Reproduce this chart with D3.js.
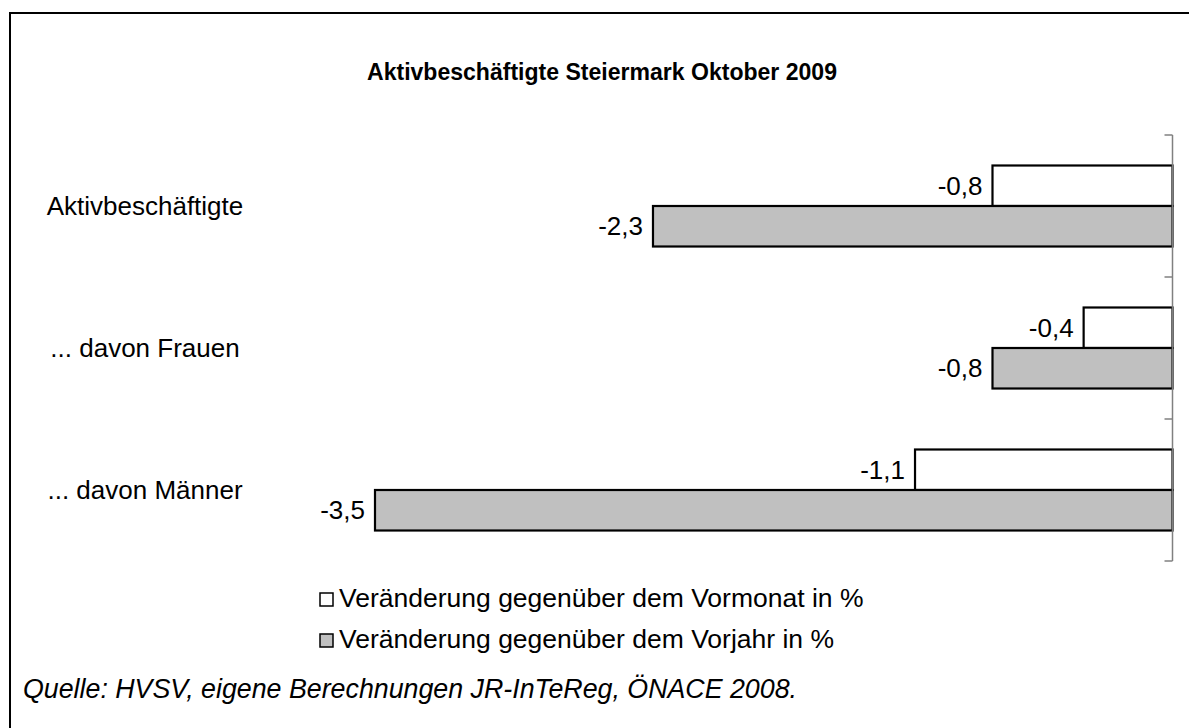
<!DOCTYPE html>
<html>
<head>
<meta charset="utf-8">
<script src="https://cdn.jsdelivr.net/npm/d3@7"></script>
<style>
	body { margin: 0; background: #fff; overflow: hidden; }
	text { font-family: Arial, "Liberation Sans", sans-serif; fill: #000; }
</style>
</head>
<body>
<div></div>
<script>
const categories = ["Aktivbeschäftigte", "... davon Frauen", "... davon Männer"];
const series = ["Veränderung gegenüber dem Vormonat in %", "Veränderung gegenüber dem Vorjahr in %"];
const vormonat = [-0.79, -0.39, -1.13];
const vorjahr = [-2.28, -0.79, -3.5];
const colors = ["#ffffff", "#c0c0c0"];

const width = 1189;
const height = 728;

var svg = d3.select("div")
	.append("svg")
	.attr("width", width)
	.attr("height", height)
	.style("display", "block");

// outer frame (runs off the right and bottom edge like the original)
svg.append("rect")
	.attr("x", 10)
	.attr("y", 13)
	.attr("width", 1300)
	.attr("height", 900)
	.style("fill", "none")
	.style("stroke", "#000")
	.style("stroke-width", 2);

svg.append("text")
	.attr("x", 367)
	.attr("y", 80)
	.attr("textLength", 470)
	.attr("lengthAdjust", "spacingAndGlyphs")
	.style("font-size", "24.5px")
	.style("font-weight", "bold")
	.text("Aktivbeschäftigte Steiermark Oktober 2009");

var x = d3.scaleLinear()
	.domain([-3.5, 0])
	.range([375, 1172.5]);

var y = d3.scaleBand()
	.domain(categories)
	.range([135, 561])
	.paddingInner(0)
	.paddingOuter(0);

var y1 = d3.scaleBand()
	.domain([0, 1])
	.range([0, y.bandwidth()])
	.paddingInner(0)
	.paddingOuter(0.753);

var rows = categories.map(function (c, i) {
	return { cat: c, values: [vormonat[i], vorjahr[i]] };
});

// category labels
svg.append("g")
	.selectAll("text")
	.data(categories)
	.enter()
	.append("text")
	.attr("x", 145)
	.attr("y", function (d) { return y(d) + y.bandwidth() / 2; })
	.attr("dy", "0.35em")
	.attr("text-anchor", "middle")
	.style("font-size", "26px")
	.text(function (d) { return d; });

var groups = svg.append("g")
	.selectAll("g")
	.data(rows)
	.enter()
	.append("g")
	.attr("transform", function (d) { return "translate(0," + y(d.cat) + ")"; });

groups.selectAll("rect")
	.data(function (d) { return d.values; })
	.enter()
	.append("rect")
	.attr("x", function (d) { return x(d); })
	.attr("y", function (d, i) { return y1(i); })
	.attr("width", function (d) { return x(0) - x(d); })
	.attr("height", y1.bandwidth())
	.style("fill", function (d, i) { return colors[i]; })
	.style("stroke", "#000")
	.style("stroke-width", 2.2);

groups.selectAll("text")
	.data(function (d) { return d.values; })
	.enter()
	.append("text")
	.attr("x", function (d) { return x(d) - 10; })
	.attr("y", function (d, i) { return y1(i) + y1.bandwidth() / 2; })
	.attr("dy", "0.35em")
	.attr("text-anchor", "end")
	.style("font-size", "26px")
	.text(function (d) { return d3.format(".1f")(d).replace("−", "-").replace(".", ","); });

// category axis at zero, ticks on band edges
var axis = svg.append("g").attr("class", "axis");
axis.append("line")
	.attr("x1", x(0))
	.attr("x2", x(0))
	.attr("y1", y.range()[0])
	.attr("y2", y.range()[1])
	.style("stroke", "#808080")
	.style("stroke-width", 1.5);

var tickPos = categories.map(function (c) { return y(c); }).concat([y.range()[1]]);
axis.selectAll(".tick")
	.data(tickPos)
	.enter()
	.append("line")
	.attr("x1", x(0) - 8)
	.attr("x2", x(0))
	.attr("y1", function (d) { return d; })
	.attr("y2", function (d) { return d; })
	.style("stroke", "#808080")
	.style("stroke-width", 1.5);

// legend
var legend = svg.append("g")
	.selectAll("g")
	.data(series)
	.enter()
	.append("g")
	.attr("transform", function (d, i) { return "translate(320," + (593 + i * 41) + ")"; });

legend.append("rect")
	.attr("width", 13)
	.attr("height", 13)
	.style("fill", function (d, i) { return colors[i]; })
	.style("stroke", "#000")
	.style("stroke-width", 1.5);

legend.append("text")
	.attr("x", 19)
	.attr("y", 14)
	.style("font-size", "26.5px")
	.text(function (d) { return d; });

svg.append("text")
	.attr("x", 23)
	.attr("y", 698)
	.attr("textLength", 774)
	.attr("lengthAdjust", "spacingAndGlyphs")
	.style("font-size", "27px")
	.style("font-style", "italic")
	.text("Quelle: HVSV, eigene Berechnungen JR-InTeReg, ÖNACE 2008.");
</script>
</body>
</html>
